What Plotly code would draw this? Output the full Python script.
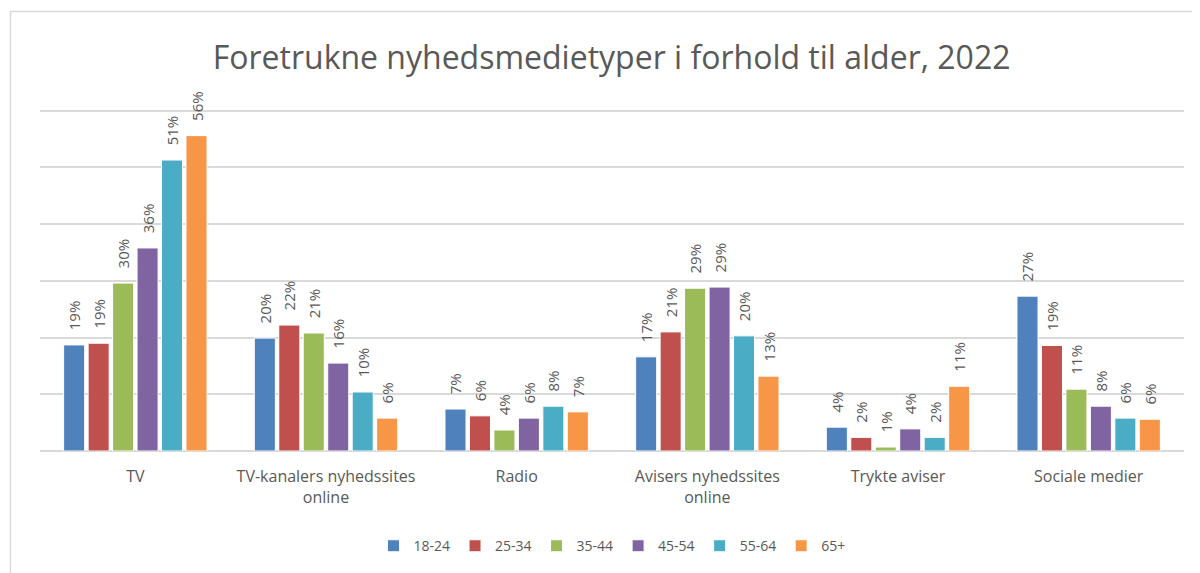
import plotly.graph_objects as go

categories = ["TV", "TV-kanalers nyhedssites<br>online", "Radio",
              "Avisers nyhedssites<br>online", "Trykte aviser", "Sociale medier"]
series_names = ["18-24", "25-34", "35-44", "45-54", "55-64", "65+"]
values = {
    "18-24": [18.7, 19.9, 7.4, 16.6, 4.2, 27.3],
    "25-34": [19.0, 22.2, 6.2, 21.0, 2.4, 18.6],
    "35-44": [29.6, 20.8, 3.7, 28.7, 0.7, 10.9],
    "45-54": [35.8, 15.5, 5.8, 28.9, 3.9, 7.9],
    "55-64": [51.3, 10.4, 7.9, 20.3, 2.4, 5.8],
    "65+":   [55.6, 5.8, 6.9, 13.2, 11.4, 5.6],
}
colors = ["#4F81BD", "#C0504D", "#9BBB59", "#8064A2", "#4BACC6", "#F79646"]

FONT = "Open Sans"
GRAY = "#595959"
PAD = "\u00a0\u00a0\u00a0"

fig = go.Figure()
for name, col in zip(series_names, colors):
    v = values[name]
    fig.add_trace(go.Bar(
        x=categories, y=v, name=name,
        marker=dict(color=col, line=dict(color="white", width=1)),
        text=[f"{PAD}{round(x):.0f}%" for x in v],
        textposition="outside", textangle=-90,
        constraintext="none",
        textfont=dict(family=FONT, size=15, color=GRAY),
        cliponaxis=False,
        hoverinfo="skip",
    ))

fig.update_layout(
    width=1200, height=573,
    margin=dict(l=32, r=24, t=97.3, b=130),
    paper_bgcolor="white", plot_bgcolor="white",
    barmode="group", bargap=0.23, bargroupgap=0.14,
    title=dict(text="Foretrukne nyhedsmedietyper i forhold til alder, 2022",
               x=0.503, xanchor="center", y=0.913, yanchor="middle",
               font=dict(family=FONT, size=32, color=GRAY)),
    font=dict(family=FONT, color=GRAY),
    xaxis=dict(showgrid=False, showline=False, ticks="", automargin=False,
               ticklabelstandoff=14,
               tickfont=dict(family=FONT, size=16, color=GRAY)),
    yaxis=dict(range=[0, 61], tick0=0, dtick=10, showticklabels=False, automargin=False,
               showgrid=True, gridcolor="#D9D9D9", gridwidth=1.5,
               zeroline=True, zerolinecolor="#D9D9D9", zerolinewidth=1.5),
    legend=dict(orientation="h", x=0.5, xanchor="center", y=-0.275, yanchor="middle",
                font=dict(family=FONT, size=14, color=GRAY),
                itemwidth=30, traceorder="normal"),
    showlegend=True,
    shapes=[dict(type="rect", xref="paper", yref="paper",
                 x0=-0.0258, x1=1.2, y0=-1.0, y1=1.27,
                 line=dict(color="#D9D9D9", width=1.5), layer="below")],
)

fig.write_html("out.html")
